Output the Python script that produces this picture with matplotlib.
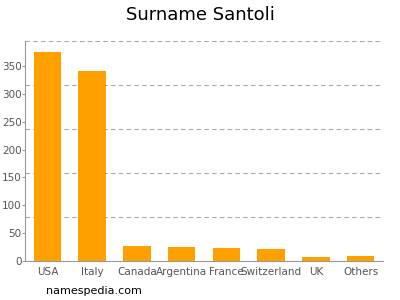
import matplotlib
matplotlib.use("Agg")
import matplotlib.pyplot as plt

categories = ["USA", "Italy", "Canada", "Argentina", "France", "Switzerland", "UK", "Others"]
values = [375, 340, 27, 25, 24, 21, 7, 9]
yticks = [0, 50, 100, 150, 200, 250, 300, 350]

fig = plt.figure(figsize=(4, 3), dpi=100)
ax = fig.add_axes([0.0625, 0.13, 0.895, 0.734])
x = range(len(categories))
ax.bar(x, values, width=0.62, color="#ffa000", zorder=2)
ax.set_xlim(-0.5, len(categories) - 0.5)
ymax = 395
ax.set_ylim(0, ymax)
ax.set_yticks(yticks)
ax.set_xticks(list(x))
ax.set_xticklabels(categories)
for k in range(1, 6):
    ax.axhline(ymax * k / 5, color="#aaaaaa", linestyle=(0, (4, 3)), linewidth=0.8, zorder=1)
for s in ["top", "right"]:
    ax.spines[s].set_visible(False)
for s in ["left", "bottom"]:
    ax.spines[s].set_color("#999999")
ax.tick_params(axis="y", colors="#999999", labelcolor="#555555", labelsize=7.5, length=2, pad=0.5)
ax.tick_params(axis="x", colors="#999999", labelcolor="#555555", labelsize=7.5, length=0, pad=4)
fig.text(0.5, 0.95, "Surname Santoli", ha="center", va="center", fontsize=13)
fig.text(0.115, 0.03, "namespedia.com", ha="left", va="center", fontsize=8)
fig.savefig("out.png", dpi=100)
